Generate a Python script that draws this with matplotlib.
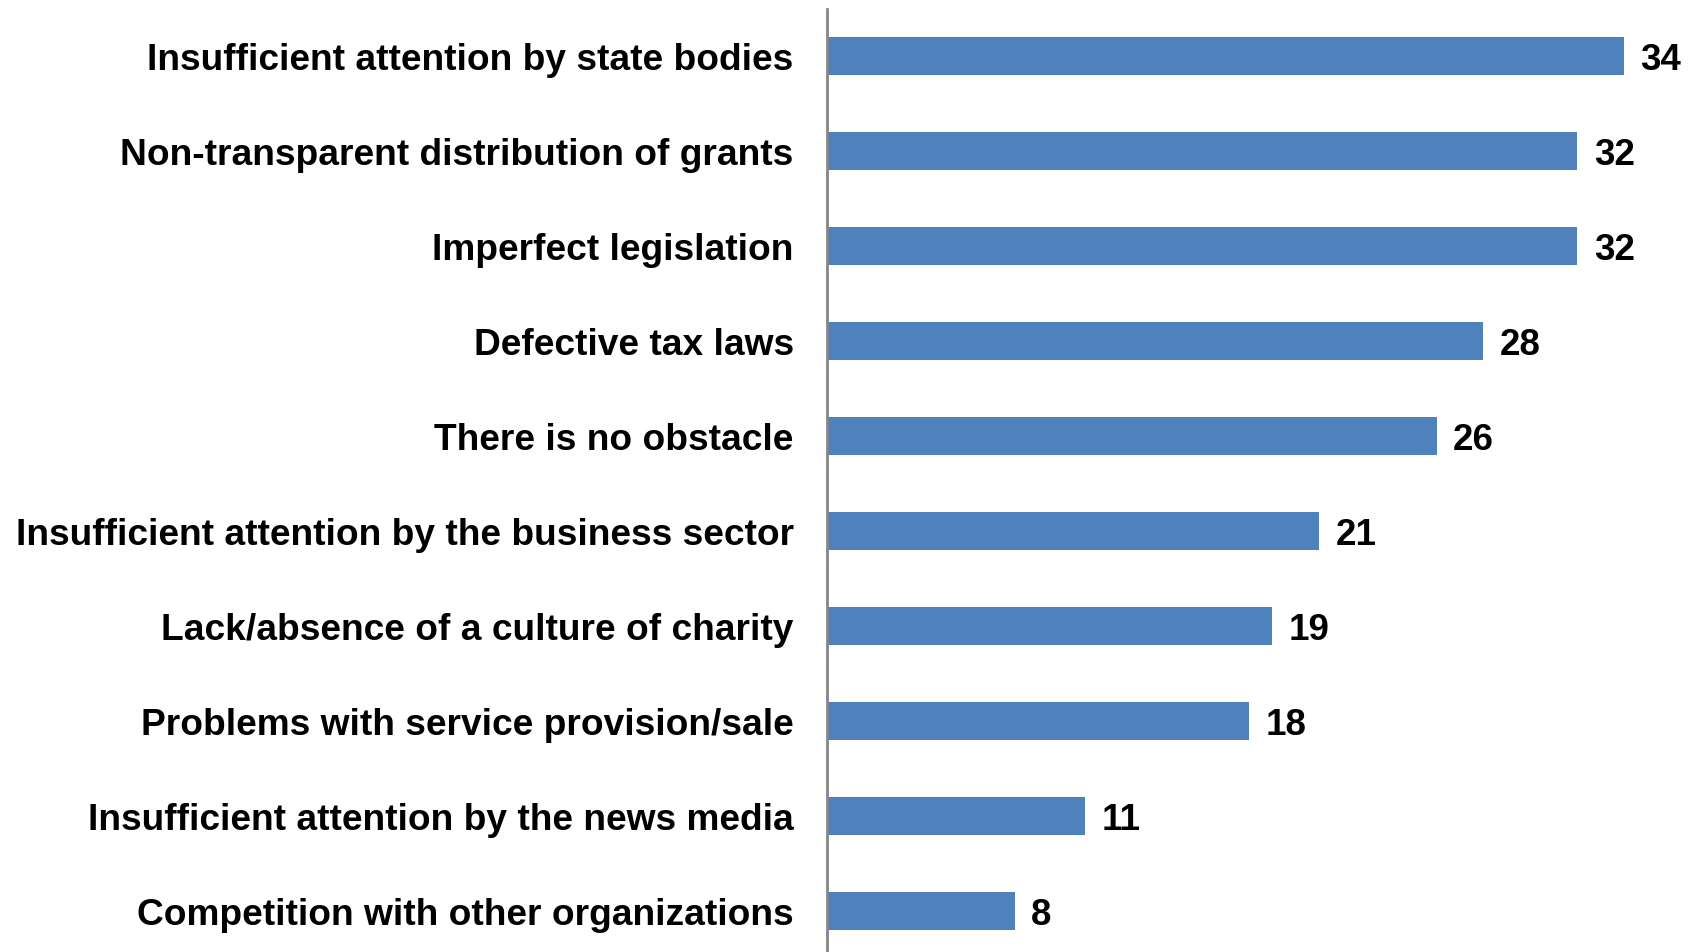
import matplotlib.pyplot as plt

# survey answers: obstacles to charity work (%)
categories = [
    'Insufficient attention by state bodies',
    'Non-transparent distribution of grants',
    'Imperfect legislation',
    'Defective tax laws',
    'There is no obstacle',
    'Insufficient attention by the business sector',
    'Lack/absence of a culture of charity',
    'Problems with service provision/sale',
    'Insufficient attention by the news media',
    'Competition with other organizations',
]
values = [34, 32, 32, 28, 26, 21, 19, 18, 11, 8]

plt.rcParams['font.family'] = ['Liberation Sans', 'DejaVu Sans']

W, H = 1698, 953
fig = plt.figure(figsize=(W / 100, H / 100), dpi=100)
# axes box in pixel units, converted to figure fractions
left, right, top, bottom = 827, 1671, 9.5, 959.5
ax = fig.add_axes([left / W, 1 - bottom / H, (right - left) / W, (bottom - top) / H])

pos = list(range(len(categories)))
ax.barh(pos, values, height=0.4, color='#4F81BD')
ax.set_ylim(len(categories) - 0.5, -0.5)
ax.set_xlim(0, 36)

for p, v in zip(pos, values):
    ax.text(v + 0.7, p, str(v), va='center_baseline', ha='left',
            fontsize=26.5, fontweight='bold')

ax.set_yticks(pos)
ax.set_yticklabels(categories, fontsize=26.7, fontweight='bold',
                   va='center_baseline')
ax.tick_params(axis='y', length=0, pad=24)
ax.set_xticks([])

for s in ['top', 'right', 'bottom']:
    ax.spines[s].set_visible(False)
ax.spines['left'].set_color('#868686')
ax.spines['left'].set_linewidth(2)

fig.savefig('out.png', dpi=100)
